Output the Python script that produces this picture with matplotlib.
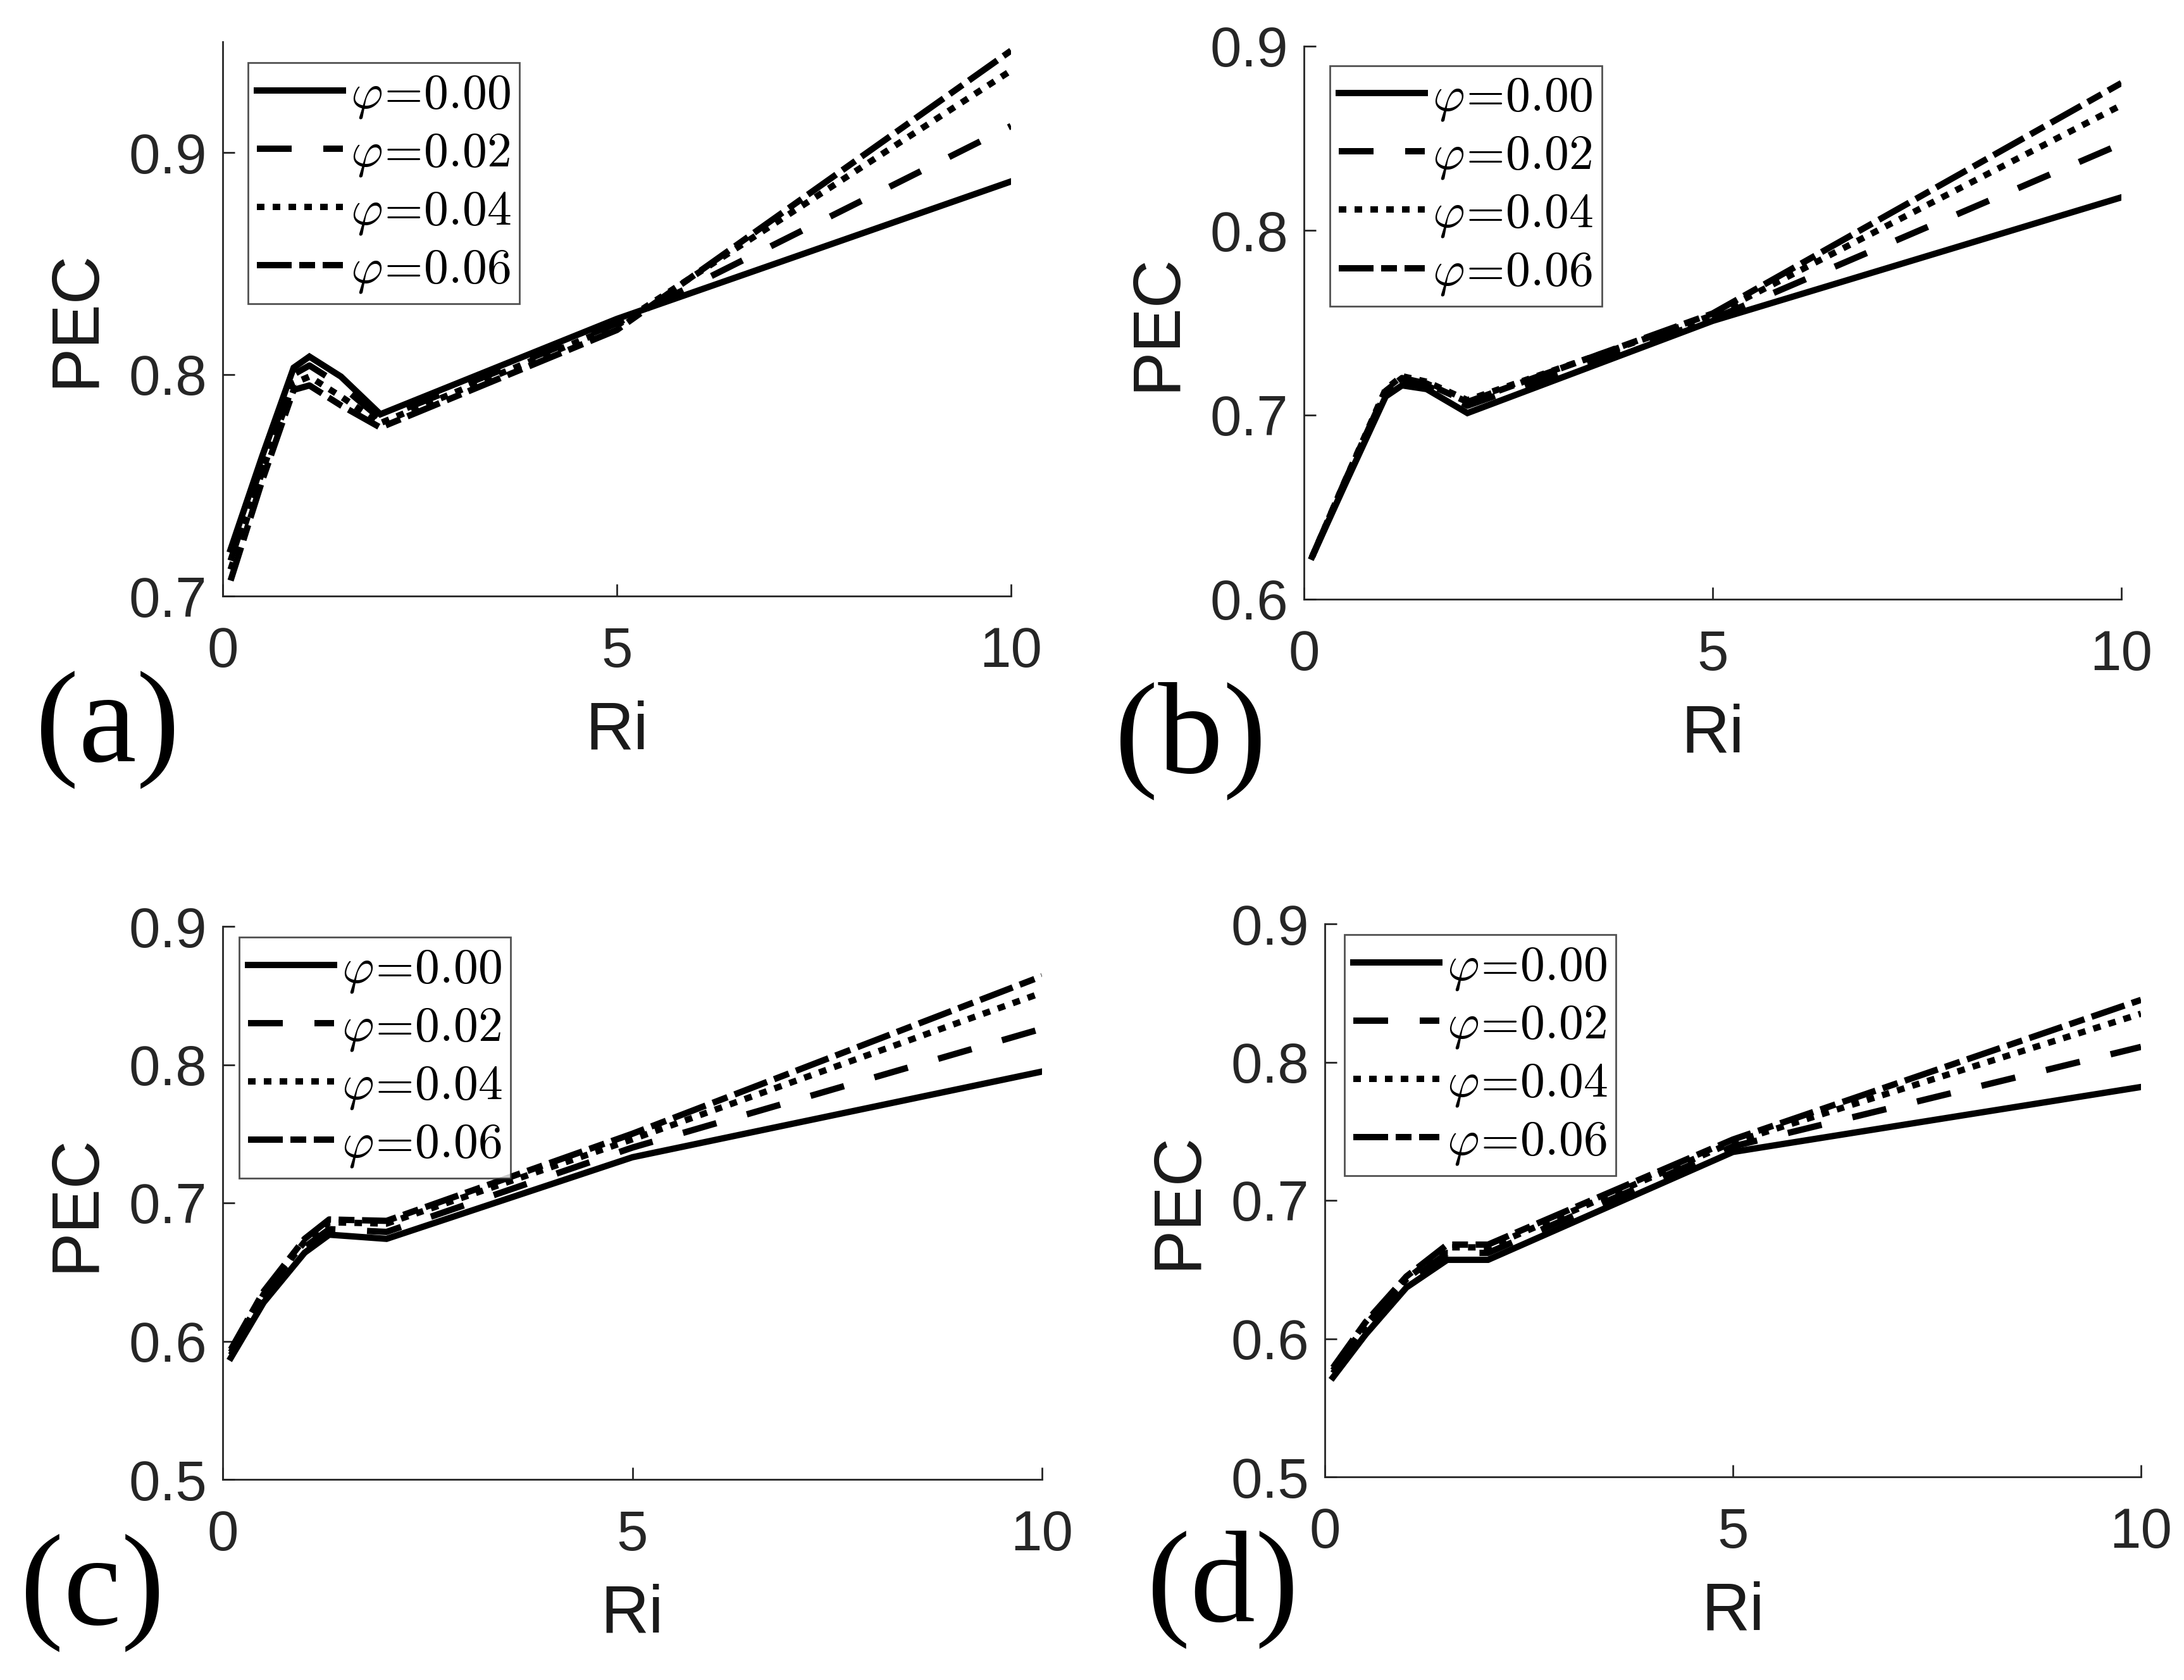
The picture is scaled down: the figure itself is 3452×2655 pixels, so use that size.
import matplotlib
matplotlib.use("Agg")
import matplotlib.pyplot as plt

plt.rcParams['font.family'] = ['Liberation Sans', 'DejaVu Sans']
plt.rcParams['mathtext.fontset'] = 'cm'

# ---------------- data ----------------
phi_labels = [r'$\varphi\!=\!0.00$', r'$\varphi\!=\!0.02$',
              r'$\varphi\!=\!0.04$', r'$\varphi\!=\!0.06$']

ri_a = [0.1, 0.5, 0.9, 1.1, 1.5, 2.0, 5.0, 10.0]
pec_a_000 = [0.721, 0.763, 0.803, 0.808, 0.799, 0.782, 0.825, 0.887]
pec_a_002 = [0.716, 0.760, 0.800, 0.804, 0.795, 0.780, 0.823, 0.912]
pec_a_004 = [0.712, 0.756, 0.796, 0.799, 0.790, 0.778, 0.822, 0.937]
pec_a_006 = [0.707, 0.752, 0.793, 0.795, 0.786, 0.776, 0.820, 0.946]

ri_b = [0.1, 0.5, 1.0, 1.2, 1.5, 2.0, 5.0, 10.0]
pec_b_000 = [0.623, 0.662, 0.710, 0.716, 0.714, 0.701, 0.751, 0.818]
pec_b_002 = [0.623, 0.663, 0.712, 0.719, 0.716, 0.705, 0.752, 0.847]
pec_b_004 = [0.623, 0.664, 0.714, 0.721, 0.718, 0.708, 0.754, 0.868]
pec_b_006 = [0.623, 0.664, 0.713, 0.720, 0.717, 0.707, 0.755, 0.880]

ri_c = [0.1, 0.5, 1.0, 1.3, 2.0, 5.0, 10.0]
pec_c_000 = [0.588, 0.628, 0.664, 0.677, 0.674, 0.733, 0.795]
pec_c_002 = [0.590, 0.631, 0.668, 0.681, 0.679, 0.740, 0.826]
pec_c_004 = [0.592, 0.634, 0.672, 0.686, 0.685, 0.746, 0.852]
pec_c_006 = [0.594, 0.636, 0.674, 0.688, 0.687, 0.750, 0.864]

ri_d = [0.1, 0.5, 1.0, 1.5, 2.0, 5.0, 10.0]
pec_d_000 = [0.572, 0.603, 0.637, 0.657, 0.657, 0.735, 0.782]
pec_d_002 = [0.575, 0.607, 0.640, 0.662, 0.662, 0.739, 0.811]
pec_d_004 = [0.577, 0.610, 0.643, 0.666, 0.666, 0.742, 0.835]
pec_d_006 = [0.579, 0.612, 0.645, 0.668, 0.668, 0.744, 0.845]

xticks = [0, 5, 10]
yticks_a = [0.7, 0.8, 0.9]
yticks_b = [0.6, 0.7, 0.8, 0.9]
yticks_cd = [0.5, 0.6, 0.7, 0.8, 0.9]
panel_tags = ['(a)', '(b)', '(c)', '(d)']

# ---------------- layout / styles ----------------
W, H = 3452, 2655
DPI = 200
fig = plt.figure(figsize=(W / DPI, H / DPI), dpi=DPI)

def frac_box(l, t, r, b):
    return [l / W, 1 - b / H, (r - l) / W, (b - t) / H]

boxes = [frac_box(352, 66, 1598, 942),
         frac_box(2061, 73, 3353, 947),
         frac_box(352, 1464, 1647, 2338),
         frac_box(2094, 1460, 3384, 2334)]
ylims = [(0.7, 0.95), (0.6, 0.9), (0.5, 0.9), (0.5, 0.9)]
yticks_all = [yticks_a, yticks_b, yticks_cd, yticks_cd]
series = [
    (ri_a, [pec_a_000, pec_a_002, pec_a_004, pec_a_006]),
    (ri_b, [pec_b_000, pec_b_002, pec_b_004, pec_b_006]),
    (ri_c, [pec_c_000, pec_c_002, pec_c_004, pec_c_006]),
    (ri_d, [pec_d_000, pec_d_002, pec_d_004, pec_d_006]),
]
legend_anchor = [(0.032, 0.962), (0.032, 0.965), (0.02, 0.98), (0.024, 0.98)]
tag_pos = [(170, 1154), (1882, 1171), (146, 2518), (1933, 2512)]

dash_styles = ['-', (0, (5.5, 5.0)), (0, (1.2, 1.3)), (0, (5.5, 1.2, 2.5, 1.2))]
LW = 3.6
axis_col = '#262626'
tick_col = '#262626'

for i, ax_box in enumerate(boxes):
    ax = fig.add_axes(ax_box)
    x, ys = series[i]
    for y, ls, lab in zip(ys, dash_styles, phi_labels):
        ax.plot(x, y, color='black', lw=LW, linestyle=ls, label=lab,
                solid_joinstyle='miter', dash_capstyle='butt')
    ax.set_xlim(0, 10)
    ax.set_ylim(*ylims[i])
    ax.set_xticks(xticks)
    ax.set_yticks(yticks_all[i])
    ax.set_xticklabels([str(v) for v in xticks])
    ax.set_yticklabels([f'{v:.1f}' for v in yticks_all[i]])
    for s in ['top', 'right']:
        ax.spines[s].set_visible(False)
    for s in ['left', 'bottom']:
        ax.spines[s].set_linewidth(1.0)
        ax.spines[s].set_color(axis_col)
    ax.tick_params(direction='in', length=7, width=1.0, colors=axis_col,
                   labelsize=32, labelcolor=tick_col)
    ax.tick_params(axis='x', pad=17)
    ax.tick_params(axis='y', pad=9)
    ax.set_xlabel('Ri', fontsize=38, color='#1a1a1a', labelpad=12)
    ax.set_ylabel('PEC', fontsize=38, color='#1a1a1a', labelpad=12)
    leg = ax.legend(loc='upper left', bbox_to_anchor=legend_anchor[i],
                    fontsize=28, frameon=True, fancybox=False,
                    edgecolor=axis_col, handlelength=1.75, handletextpad=0.15,
                    borderpad=0.18, labelspacing=0.2, borderaxespad=0.0)
    leg.get_frame().set_linewidth(1.0)
    fig.text(tag_pos[i][0] / W, 1 - tag_pos[i][1] / H, panel_tags[i],
             fontsize=74, family=['Liberation Serif', 'DejaVu Serif'],
             ha='center', va='center', color='black')

fig.savefig('out.png', dpi=DPI)
